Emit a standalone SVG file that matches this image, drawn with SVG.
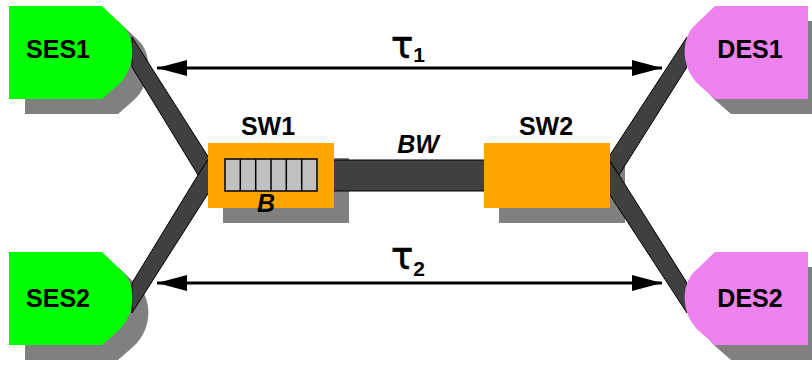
<svg xmlns="http://www.w3.org/2000/svg" width="812" height="366" viewBox="0 0 812 366">
<style>
.lbl{font-family:"Liberation Sans",Arial,sans-serif;font-weight:bold;font-size:25px;fill:#000;text-anchor:middle}
.it{font-style:italic}
.shadow{fill:#808080}
.cable{fill:#404040;stroke:#000;stroke-width:1;stroke-linejoin:round}
.ses{fill:#00ff00}
.des{fill:#ee82ee}
.sw{fill:#ffa500}
.tau{font-family:"DejaVu Sans",sans-serif;font-size:37px;fill:#000;stroke:#000;stroke-width:0.6}
.sub{font-family:"Liberation Sans",Arial,sans-serif;font-weight:bold;font-size:21px;stroke:none}
</style>
<defs>
<path id="host" d="M0,0 H93 L115,21 C127,35 127,62 109,79 L93,93 H0 Z"/>
<marker id="ah" markerWidth="30" markerHeight="18" refX="30" refY="9" orient="auto-start-reverse" markerUnits="userSpaceOnUse">
<path d="M0,1 L30,9 L0,17 Z" fill="#000"/>
</marker>
</defs>
<g id="shadows">
<use href="#host" class="shadow" transform="translate(25,21)"/>
<use href="#host" class="shadow" transform="translate(25,267)"/>
<use href="#host" class="shadow" transform="translate(824,21) scale(-1,1)"/>
<use href="#host" class="shadow" transform="translate(824,267) scale(-1,1)"/>
<rect class="shadow" x="223" y="158" width="126" height="65"/>
<rect class="shadow" x="499" y="158" width="126" height="65"/>
</g>
<g id="connectors">
<polygon class="cable" points="209,158 209,192 132,313 132,283 198,175"/>
<polygon class="cable" points="132,37 209,158 198,175 132,67"/>
<polygon class="cable" points="608,158 608,192 687,313 687,283 619,175"/>
<polygon class="cable" points="687,37 608,158 619,175 687,67"/>
<rect class="cable" x="332" y="160" width="154" height="31"/>
<line x1="157" y1="68" x2="662" y2="68" stroke="#000" stroke-width="3" marker-start="url(#ah)" marker-end="url(#ah)"/>
<line x1="157" y1="283" x2="662" y2="283" stroke="#000" stroke-width="3" marker-start="url(#ah)" marker-end="url(#ah)"/>
<text class="tau" x="391" y="58">τ<tspan class="sub" dy="4">1</tspan></text>
<text class="tau" x="391" y="269">τ<tspan class="sub" dy="7">2</tspan></text>
<text class="lbl it" x="418" y="153">BW</text>
</g>
<g id="SES1">
<use href="#host" class="ses" transform="translate(9,6)"/>
<text class="lbl" x="58" y="58">SES1</text>
</g>
<g id="SES2">
<use href="#host" class="ses" transform="translate(9,252)"/>
<text class="lbl" x="58" y="307">SES2</text>
</g>
<g id="DES1">
<use href="#host" class="des" transform="translate(808,6) scale(-1,1)"/>
<text class="lbl" x="750" y="58">DES1</text>
</g>
<g id="DES2">
<use href="#host" class="des" transform="translate(808,252) scale(-1,1)"/>
<text class="lbl" x="750" y="307">DES2</text>
</g>
<g id="SW1">
<rect class="sw" x="208" y="143" width="126" height="65"/>
<rect x="225" y="159" width="92" height="32" fill="#c0c0c0" stroke="#000" stroke-width="1.5"/>
<path d="M240.3,159 V191 M255.7,159 V191 M271,159 V191 M286.3,159 V191 M301.7,159 V191" stroke="#000" stroke-width="1.5"/>
<text class="lbl" x="268" y="135">SW1</text>
<text class="lbl it" x="266" y="212">B</text>
</g>
<g id="SW2">
<rect class="sw" x="484" y="143" width="126" height="65"/>
<text class="lbl" x="546" y="135">SW2</text>
</g>
</svg>
